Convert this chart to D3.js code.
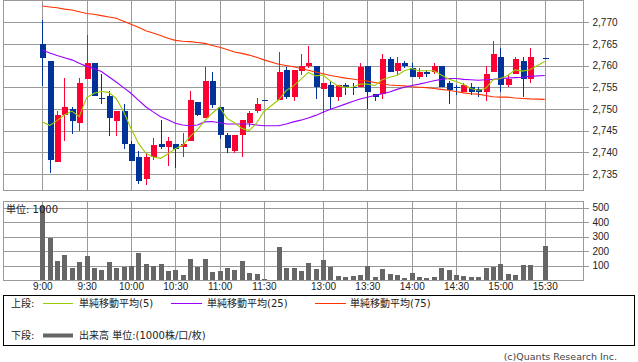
<!DOCTYPE html>
<meta charset="utf-8">
<style>
    body { margin: 0; background: #fff; }
    svg { display: block; font-family: "DejaVu Sans", "Noto Sans CJK JP", sans-serif; }
    .grid line, .border { stroke: #999; shape-rendering: crispEdges; }
    .axis path { display: none; }
    .axis line { stroke: #999; shape-rendering: crispEdges; }
    .axis text { fill: #222; font-size: 10px; }
</style>
<body>

<div class="container"></div>

<script src="https://cdn.jsdelivr.net/npm/d3@7"></script>

<script>

// 5-minute slots (with the lunch gap and the 15:25 auction slot left empty)
const times = [
    "9:00","9:05","9:10","9:15","9:20","9:25","9:30","9:35","9:40","9:45","9:50","9:55",
    "10:00","10:05","10:10","10:15","10:20","10:25","10:30","10:35","10:40","10:45","10:50","10:55",
    "11:00","11:05","11:10","11:15","11:20","11:25","11:30","12:25",
    "12:30","12:35","12:40","12:45","12:50","12:55",
    "13:00","13:05","13:10","13:15","13:20","13:25","13:30","13:35","13:40","13:45","13:50","13:55",
    "14:00","14:05","14:10","14:15","14:20","14:25","14:30","14:35","14:40","14:45","14:50","14:55",
    "15:00","15:05","15:10","15:15","15:20","15:25","15:30"
];

const open = [
    2765.0,2761.0,2737.8,2748.5,2750.0,2746.8,2757.0,2760.6,2752.5,2753.0,2747.3,2749.5,
    2741.9,2739.0,2733.9,2738.9,2741.9,2741.2,2741.9,2741.2,2742.5,2751.6,2748.0,2756.4,
    2750.4,2744.0,2740.4,2743.9,2746.8,2749.4,2752.1,null,
    2752.1,2759.0,2752.8,2758.8,2760.0,2760.0,
    2754.5,2755.4,2752.8,2755.4,2755.0,2755.0,2760.0,2753.4,2753.4,2761.5,2758.8,2760.6,
    2759.5,2757.4,2758.5,2758.5,2760.0,2756.0,2755.0,2754.0,2755.0,2754.5,2754.0,2758.4,
    2761.9,2755.4,2758.0,2761.0,2757.0,null,2761.8
];
const high = [
    2770.5,2761.0,2749.5,2757.2,2750.5,2757.2,2767.1,2760.6,2758.0,2754.2,2749.5,2751.1,
    2742.7,2740.2,2739.8,2743.2,2747.5,2743.6,2741.9,2744.5,2754.2,2751.6,2759.6,2758.5,
    2750.4,2744.5,2744.0,2747.5,2749.5,2752.5,2752.1,null,
    2763.1,2759.6,2759.0,2762.6,2764.5,2760.0,
    2756.0,2756.4,2755.4,2756.0,2756.0,2760.6,2760.0,2753.4,2762.6,2762.0,2762.0,2761.0,
    2760.6,2759.5,2759.0,2760.6,2760.0,2756.5,2755.4,2756.0,2756.0,2755.0,2760.0,2765.6,
    2764.1,2758.0,2761.9,2762.0,2764.1,null,2761.8
];
const low = [
    2755.3,2735.3,2737.8,2742.5,2744.3,2744.8,2757.0,2752.9,2751.1,2743.8,2743.8,2740.8,
    2737.9,2732.7,2732.4,2738.3,2740.8,2736.9,2736.3,2738.9,2742.5,2748.4,2748.0,2750.1,
    2743.0,2739.9,2739.9,2738.9,2745.9,2749.0,2752.0,null,
    2752.1,2752.3,2751.9,2757.7,2759.5,2752.3,
    2749.0,2750.0,2751.8,2753.3,2753.3,2755.0,2750.0,2751.8,2752.3,2758.4,2757.8,2759.5,
    2757.4,2757.0,2757.4,2758.0,2755.0,2751.1,2753.3,2754.0,2753.3,2752.8,2751.8,2758.4,
    2754.0,2755.0,2758.0,2752.8,2756.0,null,2761.8
];
const close = [
    2761.8,2738.3,2748.6,2750.4,2747.3,2756.0,2760.6,2752.9,2752.3,2748.0,2749.5,2741.8,
    2737.9,2733.3,2739.0,2741.6,2741.2,2742.6,2740.8,2741.9,2752.1,2748.5,2756.4,2751.0,
    2743.9,2740.9,2744.0,2747.5,2749.0,2751.1,2752.0,null,
    2758.5,2752.8,2759.0,2760.0,2760.6,2755.0,
    2756.0,2752.8,2755.4,2755.0,2755.0,2759.6,2754.0,2752.8,2761.5,2758.4,2760.6,2760.0,
    2757.4,2758.5,2758.0,2760.0,2755.0,2754.4,2754.9,2755.4,2754.0,2754.0,2758.0,2762.6,
    2755.4,2757.0,2761.5,2757.0,2761.9,null,2761.8
];
const volume = [
    510,292,131,172,85,126,166,85,69,126,85,92,
    97,186,110,97,110,62,69,34,145,92,145,55,
    62,85,69,131,48,41,7,null,
    228,85,85,62,117,76,
    138,92,30,21,28,34,97,21,76,41,34,14,
    48,21,14,21,83,69,34,28,21,21,83,90,
    110,41,34,103,103,null,234
];

// moving averages
const ma5 = [
    2747.0,2746.2,2747.3,2748.6,2749.5,2748.2,2752.6,2753.6,2754.0,2753.8,2752.4,2749.4,
    2745.5,2742.1,2739.8,2738.9,2738.6,2739.6,2740.8,2741.6,2743.6,2745.2,2747.3,2749.0,
    2750.4,2747.8,2746.8,2745.5,2745.0,2746.7,2749.4,null,
    2752.1,2754.2,2755.3,2756.8,2758.4,2757.6,
    2757.8,2756.4,2755.3,2755.0,2755.0,2755.7,2755.7,2755.4,2756.7,2757.3,2757.7,2758.8,
    2759.3,2758.8,2758.8,2758.8,2757.8,2756.9,2756.3,2755.7,2754.7,2754.3,2754.7,2756.7,
    2757.0,2757.7,2759.0,2758.7,2759.0,null,2760.9
];
const ma25 = [
    2763.6,2762.9,2762.3,2761.8,2761.3,2760.5,2759.8,2759.3,2758.6,2757.4,2756.2,2754.9,
    2753.6,2752.0,2750.5,2749.3,2748.2,2747.5,2746.7,2746.3,2746.1,2746.3,2747.0,2747.1,
    2746.8,2746.5,2746.5,2746.5,2746.5,2746.3,2746.1,null,
    2746.1,2746.5,2747.0,2747.4,2747.9,2748.5,
    2749.2,2749.9,2750.5,2751.1,2751.7,2752.3,2752.7,2753.1,2753.5,2753.9,2754.5,2755.0,
    2755.4,2755.7,2756.1,2756.5,2756.8,2757.0,2757.0,2756.8,2756.7,2756.6,2756.7,2756.8,
    2757.0,2757.1,2757.2,2757.3,2757.5,null,2757.7
];
const ma75 = [
    2773.7,2773.5,2773.3,2773.0,2772.8,2772.4,2772.0,2771.8,2771.5,2771.2,2770.9,2770.2,
    2769.5,2768.8,2768.0,2767.5,2766.9,2766.3,2765.8,2765.6,2765.5,2765.3,2765.1,2764.6,
    2764.2,2763.7,2763.1,2762.8,2762.4,2761.9,2761.3,null,
    2760.3,2760.0,2759.7,2759.3,2758.9,2758.5,
    2758.1,2757.7,2757.4,2757.1,2756.9,2756.6,2756.4,2756.1,2755.8,2755.5,2755.4,2755.3,
    2755.1,2755.0,2754.9,2754.7,2754.5,2754.3,2754.0,2753.7,2753.5,2753.4,2753.1,2752.8,
    2752.7,2752.7,2752.5,2752.4,2752.3,null,2752.2
];

const priceTicks = [2735, 2740, 2745, 2750, 2755, 2760, 2765, 2770];
const volumeTicks = [100, 200, 300, 400, 500];
const timeTicks = ["9:00","9:30","10:00","10:30","11:00","11:30","13:00","13:30","14:00","14:30","15:00","15:30"];

const width = 638;
const height = 362;

const svg = d3.select('.container')
                .append('svg')
                .attr('width', width)
                .attr('height', height);

const left = 3, right = 583;
const top1 = 0.5, bottom1 = 190;
const top2 = 201, bottom2 = 280;

const x = d3.scalePoint().domain(times).range([42.3, 544.7]);
const y = d3.scaleLinear().domain([2731.3, 2775.1]).range([bottom1, 0]);
const yv = d3.scaleLinear().domain([0, 545]).range([bottom2, top2]);

const px = v => Math.round(v) + 0.5;

// grid: price panel
const grid = svg.append('g').attr('class', 'grid');
grid.selectAll('line.h1').data(priceTicks).enter().append('line')
    .attr('x1', left).attr('x2', right)
    .attr('y1', d => px(y(d))).attr('y2', d => px(y(d)));
grid.selectAll('line.v1').data(timeTicks).enter().append('line')
    .attr('x1', d => px(x(d))).attr('x2', d => px(x(d)))
    .attr('y1', top1).attr('y2', bottom1);
// grid: volume panel
grid.selectAll('line.h2').data(volumeTicks).enter().append('line')
    .attr('x1', left).attr('x2', right)
    .attr('y1', d => px(yv(d))).attr('y2', d => px(yv(d)));
grid.selectAll('line.v2').data(timeTicks).enter().append('line')
    .attr('x1', d => px(x(d))).attr('x2', d => px(x(d)))
    .attr('y1', top2).attr('y2', bottom2);

svg.append('rect').attr('class', 'border')
    .attr('x', left + 0.5).attr('y', top1).attr('width', right - left).attr('height', bottom1 - top1)
    .style('fill', 'none');
svg.append('rect').attr('class', 'border')
    .attr('x', left + 0.5).attr('y', top2 + 0.5).attr('width', right - left).attr('height', bottom2 - top2)
    .style('fill', 'none');

// axes
svg.append('g').attr('class', 'axis')
    .attr('transform', `translate(${right + 0.5},0)`)
    .call(d3.axisRight(y).tickValues(priceTicks).tickSize(5).tickPadding(4).tickFormat(d3.format(',')));
svg.append('g').attr('class', 'axis')
    .attr('transform', `translate(${right + 0.5},0)`)
    .call(d3.axisRight(yv).tickValues(volumeTicks).tickSize(5).tickPadding(4));
svg.append('g').attr('class', 'axis')
    .attr('transform', `translate(0,${bottom2})`)
    .call(d3.axisBottom(x).tickValues(timeTicks).tickSize(0).tickPadding(3));

// volume bars
svg.append('clipPath').attr('id', 'vclip')
    .append('rect').attr('x', left).attr('y', top2).attr('width', right - left).attr('height', bottom2 - top2);

const idx = d3.range(times.length).filter(i => open[i] !== null);

svg.append('g').attr('clip-path', 'url(#vclip)')
    .selectAll('rect').data(idx).enter().append('rect')
    .attr('x', i => Math.round(x(times[i])) - 2)
    .attr('width', 5)
    .attr('y', i => Math.round(yv(volume[i])))
    .attr('height', i => bottom2 - Math.round(yv(volume[i])))
    .style('fill', '#666')
    .style('shape-rendering', 'crispEdges');

svg.append('text')
    .attr('x', 6).attr('y', 212.5)
    .style('font-size', '10px').style('fill', '#222')
    .text('単位: 1000');

// candles
const up = i => close[i] > open[i];
const colour = i => up(i) ? '#ff0033' : '#003399';

const candles = svg.append('g').style('shape-rendering', 'crispEdges');

candles.selectAll('line').data(idx).enter().append('line')
    .attr('x1', i => px(x(times[i]))).attr('x2', i => px(x(times[i])))
    .attr('y1', i => Math.round(y(high[i]))).attr('y2', i => Math.round(y(low[i])))
    .style('stroke', colour);

candles.selectAll('rect').data(idx).enter().append('rect')
    .attr('x', i => Math.round(x(times[i])) - 2.5)
    .attr('width', 6)
    .attr('y', i => Math.round(y(Math.max(open[i], close[i]))))
    .attr('height', i => Math.max(1, Math.round(y(Math.min(open[i], close[i]))) - Math.round(y(Math.max(open[i], close[i])))))
    .style('fill', colour);

// moving averages
const drawMA = (values, col, w) => {
    const pts = idx.map(i => [x(times[i]), y(values[i])]);
    svg.append('path')
        .attr('d', d3.line()(pts))
        .style('fill', 'none')
        .style('stroke', col)
        .style('stroke-width', w);
};

drawMA(ma75, '#ff3300', 1.1);
drawMA(ma25, '#9900ff', 1.1);
drawMA(ma5, '#99cc00', 1.1);

// legend
svg.append('rect')
    .attr('x', 3.5).attr('y', 295.5).attr('width', 631).attr('height', 50)
    .style('fill', 'none').style('stroke', '#000').style('shape-rendering', 'crispEdges');

const legendText = (tx, ty, s) => svg.append('text')
    .attr('x', tx).attr('y', ty)
    .style('font-size', '10px').style('fill', '#222')
    .text(s);

const legendLine = (x1, x2, ly, col, w) => svg.append('line')
    .attr('x1', x1).attr('x2', x2).attr('y1', ly).attr('y2', ly)
    .style('stroke', col).style('stroke-width', w);

legendText(11, 307, '上段:');
legendLine(43, 73, 303.5, '#99cc00', 1);
legendText(79, 307, '単純移動平均(5)');
legendLine(171, 202, 303.5, '#9900ff', 1);
legendText(207, 307, '単純移動平均(25)');
legendLine(315, 346, 303.5, '#ff3300', 1);
legendText(350, 307, '単純移動平均(75)');

legendText(11, 339, '下段:');
legendLine(43, 73, 335.5, '#666', 4);
legendText(79, 339, '出来高 単位:(1000株/口/枚)');

svg.append('text')
    .attr('x', 617).attr('y', 360)
    .attr('text-anchor', 'end')
    .style('font-size', '9.5px').style('fill', '#444')
    .text('(c)Quants Research Inc.');

</script>
</body>
